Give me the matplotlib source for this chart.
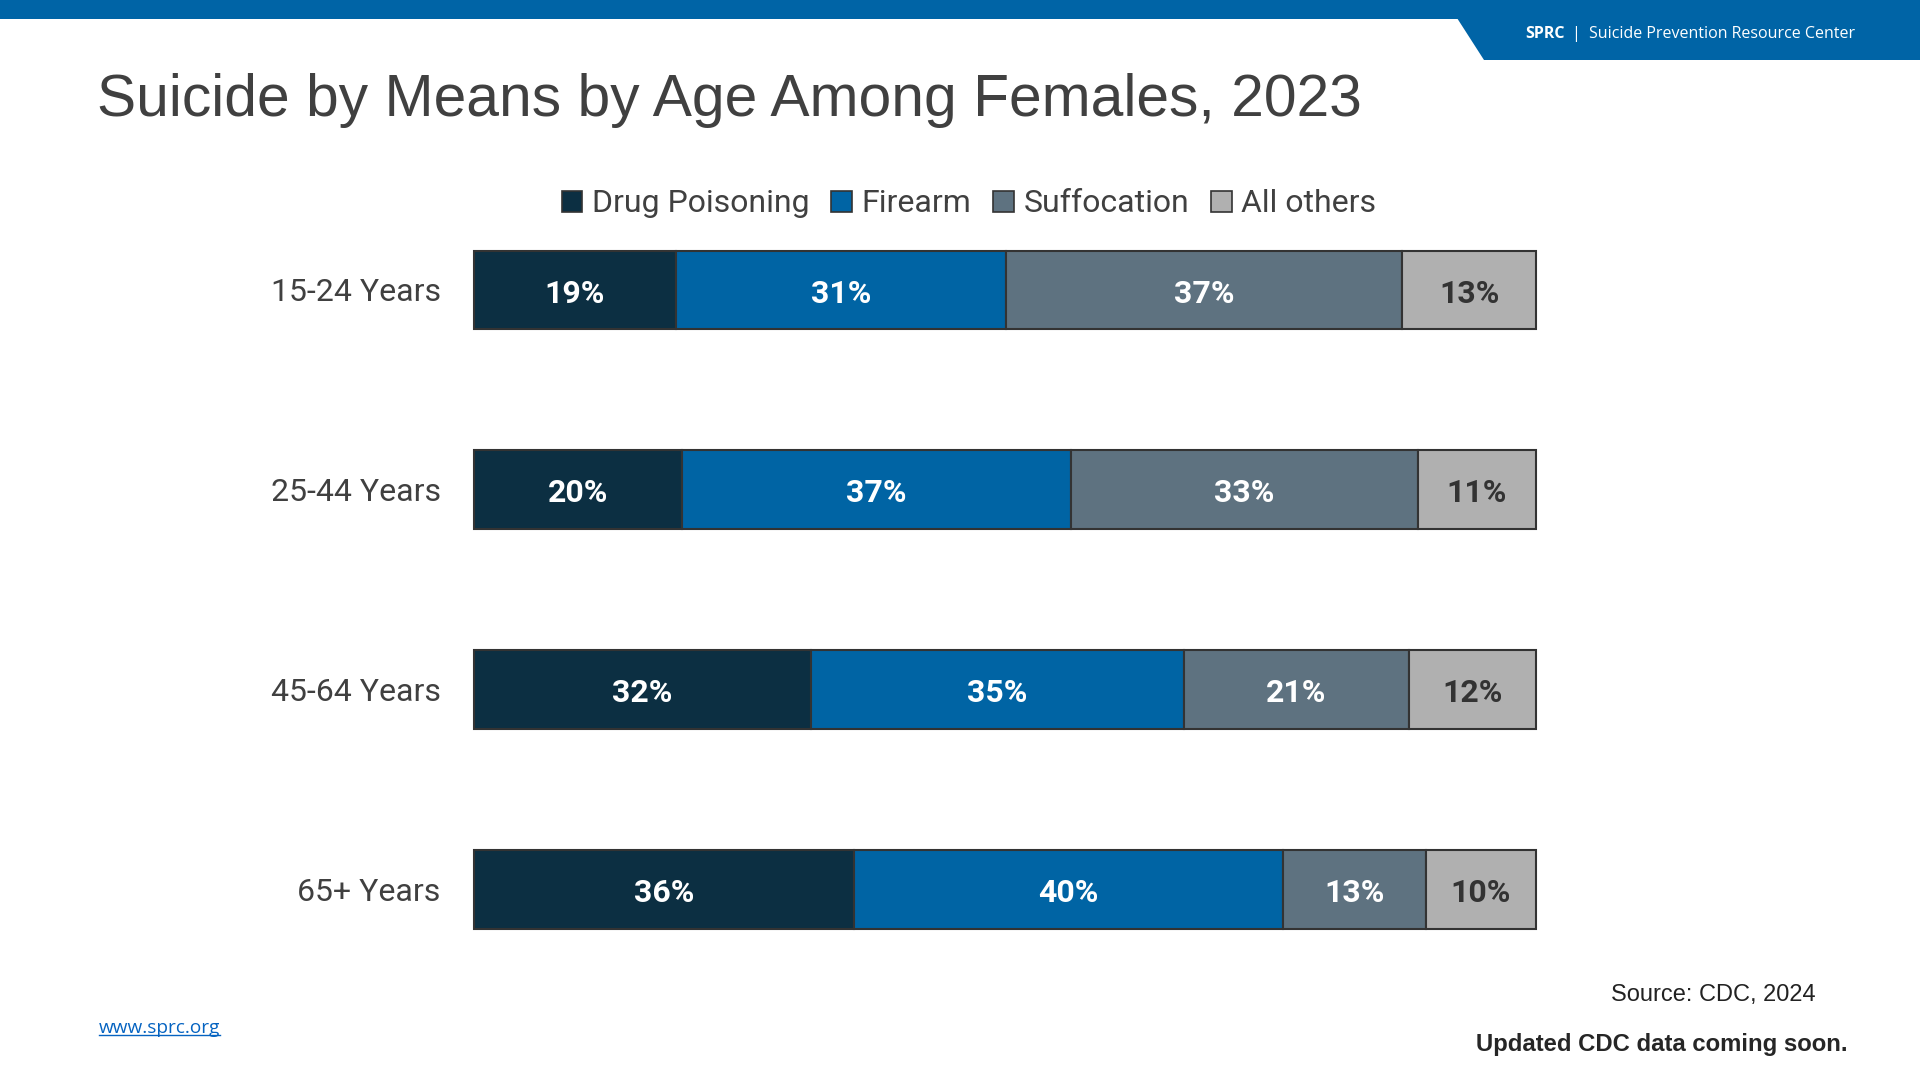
import matplotlib
matplotlib.use("Agg")
import matplotlib.pyplot as plt
from matplotlib.patches import Polygon, Rectangle
from matplotlib.lines import Line2D
import numpy as np

# ---- data ----
categories = ["15-24 Years", "25-44 Years", "45-64 Years", "65+ Years"]
series_names = ["Drug Poisoning", "Firearm", "Suffocation", "All others"]
drug_poisoning = [19.0, 19.6, 31.7, 35.8]
firearm = [31.1, 36.6, 35.2, 40.4]
suffocation = [37.3, 32.7, 21.1, 13.4]
all_others = [12.6, 11.1, 12.0, 10.4]
series_values = [drug_poisoning, firearm, suffocation, all_others]
colors = ["#0C2F42", "#0064A4", "#5E7280", "#B0B0B0"]
label_colors = ["white", "white", "white", "#333333"]

W, H = 1920, 1080
fig = plt.figure(figsize=(W / 100, H / 100), dpi=100)
fig.patch.set_facecolor("white")

def fx(px):
    return px / W

def fy(py):
    return 1 - py / H

# header band
band = "#0064A6"
fig.patches.append(Rectangle((0, fy(19)), 1, 19 / H, transform=fig.transFigure,
                             facecolor=band, edgecolor="none", zorder=1))
fig.patches.append(Polygon([(fx(1457), fy(18)), (1, fy(18)), (1, fy(60)), (fx(1484), fy(60))],
                           closed=True, transform=fig.transFigure,
                           facecolor=band, edgecolor="none", zorder=1))
fig.text(fx(1525), fy(34), "SPRC", color="white", fontsize=11.5, fontweight="bold",
         family="Open Sans", ha="left", va="center")
fig.text(fx(1576), fy(34), "|", color="white", fontsize=11.5,
         family="Open Sans", ha="center", va="center")
fig.text(fx(1589), fy(34), "Suicide Prevention Resource Center", color="white",
         fontsize=11.5, family="Open Sans", ha="left", va="center")

# title
fig.text(fx(97), fy(100), "Suicide by Means by Age Among Females, 2023", color="#404040",
         fontsize=42.3, family="Liberation Sans", ha="left", va="center")

# axes
top_px, bot_px = 250.5, 929
ax = fig.add_axes([fx(474), fy(bot_px), (1536 - 474) / W, (bot_px - top_px) / H])
y = np.arange(len(categories))
bh = 0.395
ax.set_ylim(3 + bh / 2, -bh / 2)
ax.set_xlim(0, 100)

left = np.zeros(len(categories))
for name, vals, c, lc in zip(series_names, series_values, colors, label_colors):
    vals = np.array(vals)
    bars = ax.barh(y, vals, left=left, height=bh, color=c, edgecolor="#333333",
                   linewidth=1.5, label=name, clip_on=False)
    for b, v, l in zip(bars, vals, left):
        ax.text(l + v / 2, b.get_y() + b.get_height() / 2 + 0.018, f"{v:.0f}%", ha="center",
                va="center", color=lc, fontsize=23, fontweight="bold", family="Roboto")
    left = left + vals

for s in ax.spines.values():
    s.set_visible(False)
ax.set_xticks([])
ax.set_yticks(y)
ax.set_yticklabels(categories, fontsize=23, family="Roboto", color="#404040")
ax.tick_params(axis="y", length=0, pad=24)

leg = fig.legend(loc="center", bbox_to_anchor=(fx(969), fy(204)), ncol=4, frameon=False,
                 prop={"family": "Roboto", "size": 23}, handlelength=0.65, handleheight=0.65,
                 handletextpad=0.3, columnspacing=0.68, labelcolor="#404040")
for h in leg.legend_handles:
    h.set_edgecolor("#333333")
    h.set_linewidth(1.2)

# footer
fig.text(fx(1816), fy(995), "Source: CDC, 2024", color="#222222", fontsize=17,
         family="Liberation Sans", ha="right", va="center")
fig.text(fx(1848), fy(1045), "Updated CDC data coming soon.", color="#262626", fontsize=17.2,
         fontweight="bold", family="Liberation Sans", ha="right", va="center")
url = fig.text(fx(99), fy(1028), "www.sprc.org", color="#0563C1", fontsize=13.7,
               family="Open Sans", ha="left", va="center")

fig.canvas.draw()
bb = url.get_window_extent(renderer=fig.canvas.get_renderer())
uy = bb.y0 + 2
fig.lines.append(Line2D([bb.x0 / W, bb.x1 / W], [uy / H, uy / H], transform=fig.transFigure,
                        color="#0563C1", linewidth=1))

fig.savefig("out.png", dpi=100, facecolor="white")
